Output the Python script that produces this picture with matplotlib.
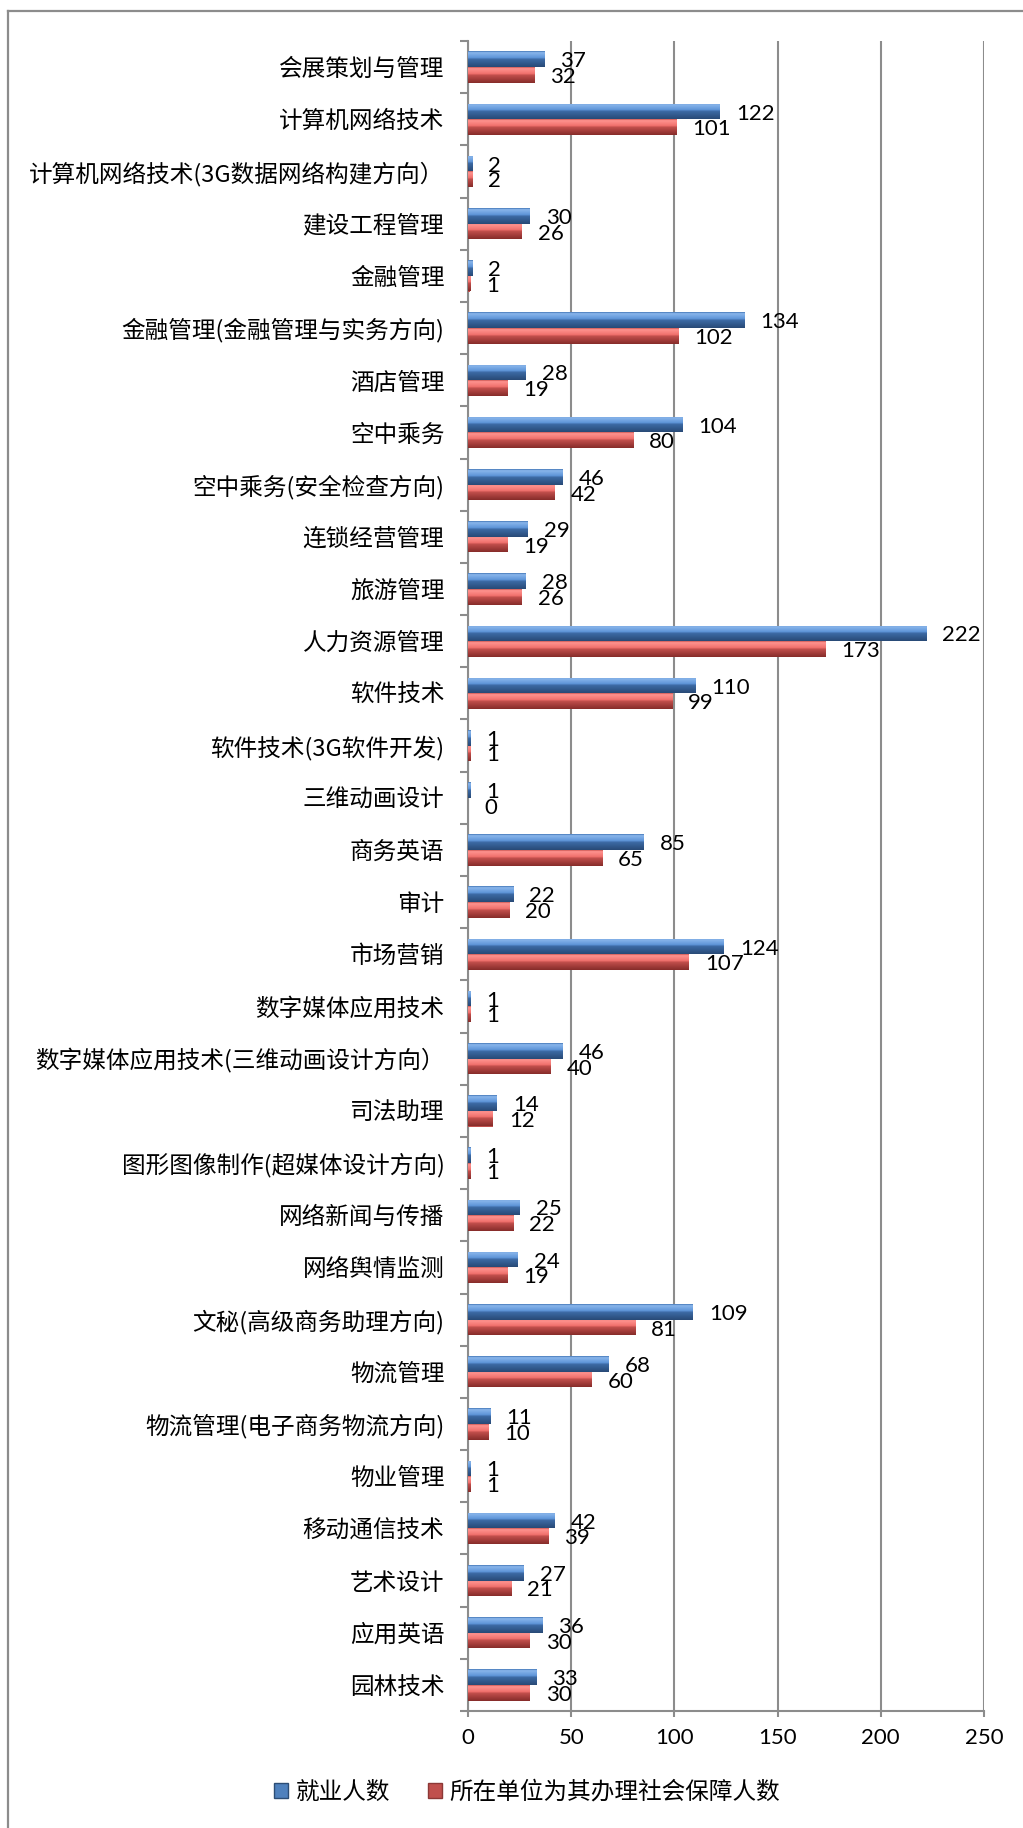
import numpy as np
import matplotlib
matplotlib.use("Agg")
import matplotlib.pyplot as plt
from matplotlib.patches import Patch
from matplotlib.lines import Line2D
from matplotlib.colors import LinearSegmentedColormap

plt.rcParams['font.family'] = ['Noto Sans CJK SC', 'DejaVu Sans']

categories = [
    "会展策划与管理", "计算机网络技术", "计算机网络技术(3G数据网络构建方向）", "建设工程管理",
    "金融管理", "金融管理(金融管理与实务方向)", "酒店管理", "空中乘务", "空中乘务(安全检查方向)",
    "连锁经营管理", "旅游管理", "人力资源管理", "软件技术", "软件技术(3G软件开发)", "三维动画设计",
    "商务英语", "审计", "市场营销", "数字媒体应用技术", "数字媒体应用技术(三维动画设计方向）",
    "司法助理", "图形图像制作(超媒体设计方向)", "网络新闻与传播", "网络舆情监测",
    "文秘(高级商务助理方向)", "物流管理", "物流管理(电子商务物流方向)", "物业管理",
    "移动通信技术", "艺术设计", "应用英语", "园林技术",
]
employed = [37, 122, 2, 30, 2, 134, 28, 104, 46, 29, 28, 222, 110, 1, 1, 85, 22, 124, 1, 46,
            14, 1, 25, 24, 109, 68, 11, 1, 42, 27, 36, 33]
insured = [32, 101, 2, 26, 1, 102, 19, 80, 42, 19, 26, 173, 99, 1, 0, 65, 20, 107, 1, 40,
           12, 1, 22, 19, 81, 60, 10, 1, 39, 21, 30, 30]
series_names = ["就业人数", "所在单位为其办理社会保障人数"]
x_ticks = [0, 50, 100, 150, 200, 250]

W, H = 1023, 1828
fig = plt.figure(figsize=(W / 100, H / 100), dpi=100)
ax = fig.add_axes([468 / W, 1 - 1711 / H, (984 - 468) / W, (1711 - 41) / H])

n = len(categories)
y = np.arange(n)
h = 0.30
grid_c = "#8C8C8C"

blue_grad = LinearSegmentedColormap.from_list("b", [
    (0.0, "#3F72B2"), (0.08, "#8AB6EC"), (0.42, "#5E95D8"), (0.5, "#3D6BA6"),
    (1.0, "#284A76")])
red_grad = LinearSegmentedColormap.from_list("r", [
    (0.0, "#C85450"), (0.08, "#FF9490"), (0.42, "#F0706C"), (0.5, "#C24F4C"),
    (1.0, "#862C2A")])

b1 = ax.barh(y - h / 2, employed, height=h, color="#4F81BD", zorder=3)
b2 = ax.barh(y + h / 2, insured, height=h, color="#C0504D", zorder=3)

grad = np.linspace(0, 1, 64).reshape(-1, 1)
for bars, cmap in ((b1, blue_grad), (b2, red_grad)):
    for p in bars:
        x0, y0, w, hh = p.get_x(), p.get_y(), p.get_width(), p.get_height()
        if w <= 0:
            continue
        im = ax.imshow(grad, cmap=cmap, aspect="auto", origin="upper",
                       extent=(x0, x0 + w, y0 + hh, y0), zorder=3.5,
                       interpolation="bilinear")
        im.set_clip_path(p)

for bars, vals in ((b1, employed), (b2, insured)):
    for p, v in zip(bars, vals):
        ax.annotate(str(v), (p.get_width(), p.get_y() + p.get_height() / 2),
                    xytext=(11.5, -1.5), textcoords="offset points",
                    ha="left", va="center", fontsize=16, family=["Lato", "DejaVu Sans"],
                    color="black", zorder=5)

ax.set_xlim(0, 250)
ax.set_ylim(n - 0.5, -0.5)
ax.set_xticks(x_ticks)
ax.set_xticklabels([str(t) for t in x_ticks], fontsize=16, family=["Lato", "DejaVu Sans"])
ax.set_yticks(y)
ax.set_yticklabels(categories, fontsize=17)
ax.set_yticks(np.arange(n + 1) - 0.5, minor=True)
ax.tick_params(axis="y", which="major", length=0, pad=17)
ax.tick_params(axis="y", which="minor", length=6, width=1.5, color=grid_c)
ax.tick_params(axis="x", which="major", length=4.5, width=1.5, color=grid_c, pad=8)
ax.grid(axis="x", color=grid_c, linewidth=1.5, zorder=0)
ax.set_axisbelow(True)
for s in ("top", "right"):
    ax.spines[s].set_visible(False)
for s in ("left", "bottom"):
    ax.spines[s].set_color(grid_c)
    ax.spines[s].set_linewidth(1.5)

handles = [Patch(facecolor="#4F81BD", edgecolor="#2C4D75"),
           Patch(facecolor="#C0504D", edgecolor="#8C3836")]
fig.legend(handles, series_names, loc="center", bbox_to_anchor=(527 / W, 1 - 1792 / H),
           ncol=2, frameon=False, fontsize=17, handlelength=0.6, handleheight=0.6,
           handletextpad=0.3, columnspacing=1.6)

fig.add_artist(Line2D([8 / W, 8 / W], [0, 1 - 11 / H], color="#8C8C8C", lw=1.6,
                      transform=fig.transFigure))
fig.add_artist(Line2D([8 / W, 1], [1 - 11 / H, 1 - 11 / H], color="#8C8C8C", lw=1.6,
                      transform=fig.transFigure))

fig.savefig("out.png", dpi=100)
